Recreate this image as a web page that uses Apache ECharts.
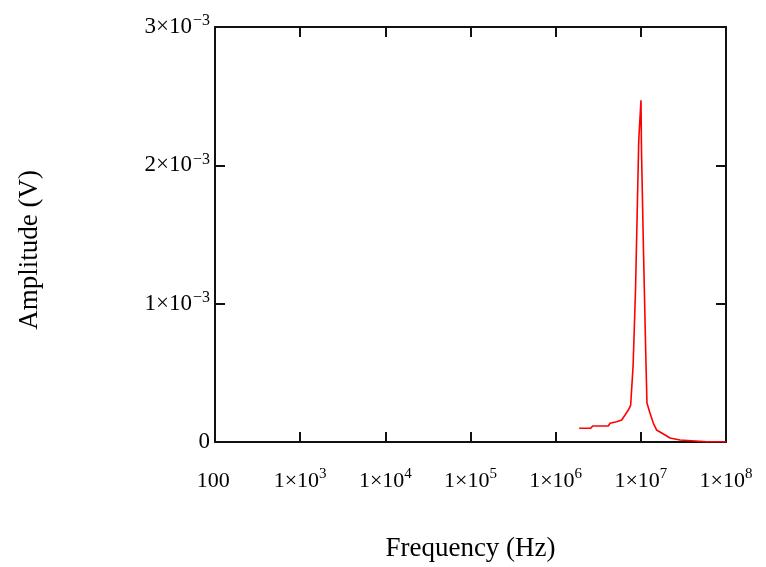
<!DOCTYPE html>
<html><head><meta charset="utf-8">
<script src="https://cdn.jsdelivr.net/npm/echarts@6/dist/echarts.min.js"></script>
<style>html,body{margin:0;padding:0;background:#fff}#c{width:766px;height:567px}</style>
</head><body><div id="c"></div>
<script>
// Frequency (Hz) and amplitude (V)
const freqHz = [1.89e6, 2.58e6, 2.72e6, 4.15e6, 4.34e6, 5.20e6, 5.96e6, 6.52e6, 7.13e6, 7.60e6, 8.02e6, 8.12e6, 8.54e6, 8.66e6, 8.94e6, 9.05e6, 9.33e6, 9.45e6, 9.77e6, 1.004e7, 1.018e7, 1.051e7, 1.074e7, 1.119e7, 1.14e7, 1.171e7, 1.18e7, 1.28e7, 1.40e7, 1.53e7, 1.76e7, 2.20e7, 2.88e7, 5.93e7, 1e8];
const amplitudeV = [0.99e-4, 0.99e-4, 1.16e-4, 1.16e-4, 1.35e-4, 1.47e-4, 1.59e-4, 1.95e-4, 2.31e-4, 2.67e-4, 2.79e-4, 5.56e-4, 5.56e-4, 1.097e-3, 1.097e-3, 1.639e-3, 1.639e-3, 2.18e-3, 2.18e-3, 2.47e-3, 2.108e-3, 2.108e-3, 1.386e-3, 1.386e-3, 0.664e-3, 0.664e-3, 0.282e-3, 0.209e-3, 0.137e-3, 0.087e-3, 0.065e-3, 0.029e-3, 0.0144e-3, 0.002e-3, 0.002e-3];
const xTickExponents = [2, 3, 4, 5, 6, 7, 8];
const yTickMantissas = [0, 1, 2, 3];
const xLabelText = 'Frequency (Hz)';
const yLabelText = 'Amplitude (V)';

const FONT = 'Liberation Serif';
const rich = {
  b: {fontFamily: FONT, fontSize: 22, color: '#000'},
  s: {fontFamily: FONT, fontSize: 15, color: '#000', padding: [0, 0, 13, 0]}
};
const richY = {
  b: {fontFamily: FONT, fontSize: 23, color: '#000'},
  s: {fontFamily: FONT, fontSize: 16, color: '#000', padding: [0, 0, 12, 1]}
};
const chart = echarts.init(document.getElementById('c'), null, {renderer: 'canvas'});
const data = freqHz.map((f, i) => [f, amplitudeV[i]]);
const axisLine = {show: true, onZero: false, lineStyle: {color: '#111', width: 2}};
const tick = {show: true, inside: true, length: 10, lineStyle: {color: '#111', width: 2}};
chart.setOption({
  backgroundColor: '#fff',
  animation: false,
  grid: {left: 215, right: 40, top: 27, bottom: 125},
  graphic: [{
    type: 'text', left: 16, top: 170, rotation: Math.PI / 2,
    style: {text: yLabelText, font: '27px "Liberation Serif"', fill: '#000'}
  }],
  xAxis: [{
    type: 'log', logBase: 10, min: 100, max: 1e8, splitNumber: 6,
    name: xLabelText, nameLocation: 'middle', nameGap: 93,
    nameTextStyle: {fontFamily: FONT, fontSize: 27, color: '#000'},
    axisLine, axisTick: tick, splitLine: {show: false}, minorTick: {show: false},
    axisLabel: {
      margin: 25, color: '#000', fontFamily: FONT, fontSize: 22, rich,
      formatter: v => {
        const e = Math.round(Math.log10(v));
        if (!xTickExponents.includes(e)) return '';
        return e === 2 ? '{b|100}{s| }' : '{b|1×10}{s|' + e + '}';
      }
    }
  }, {
    type: 'log', logBase: 10, min: 100, max: 1e8, splitNumber: 6, position: 'top',
    axisLine, axisTick: tick, axisLabel: {show: false}, splitLine: {show: false}
  }],
  yAxis: [{
    type: 'value', min: 0, max: 0.003, interval: 0.001,
    axisLine, axisTick: tick, splitLine: {show: false},
    axisLabel: {
      margin: 5, color: '#000', fontFamily: FONT, fontSize: 23, rich: richY,
      formatter: v => {
        const m = Math.round(v * 1000);
        if (!yTickMantissas.includes(m)) return '';
        return m === 0 ? '{b|0}' : '{b|' + m + '×10}{s|−3}';
      }
    }
  }, {
    type: 'value', min: 0, max: 0.003, interval: 0.001, position: 'right',
    axisLine, axisTick: tick, axisLabel: {show: false}, splitLine: {show: false}
  }],
  series: [{
    type: 'line', data, showSymbol: false, symbol: 'none',
    lineStyle: {color: '#ff0000', width: 1.6}, z: 1
  }]
});
</script></body></html>
